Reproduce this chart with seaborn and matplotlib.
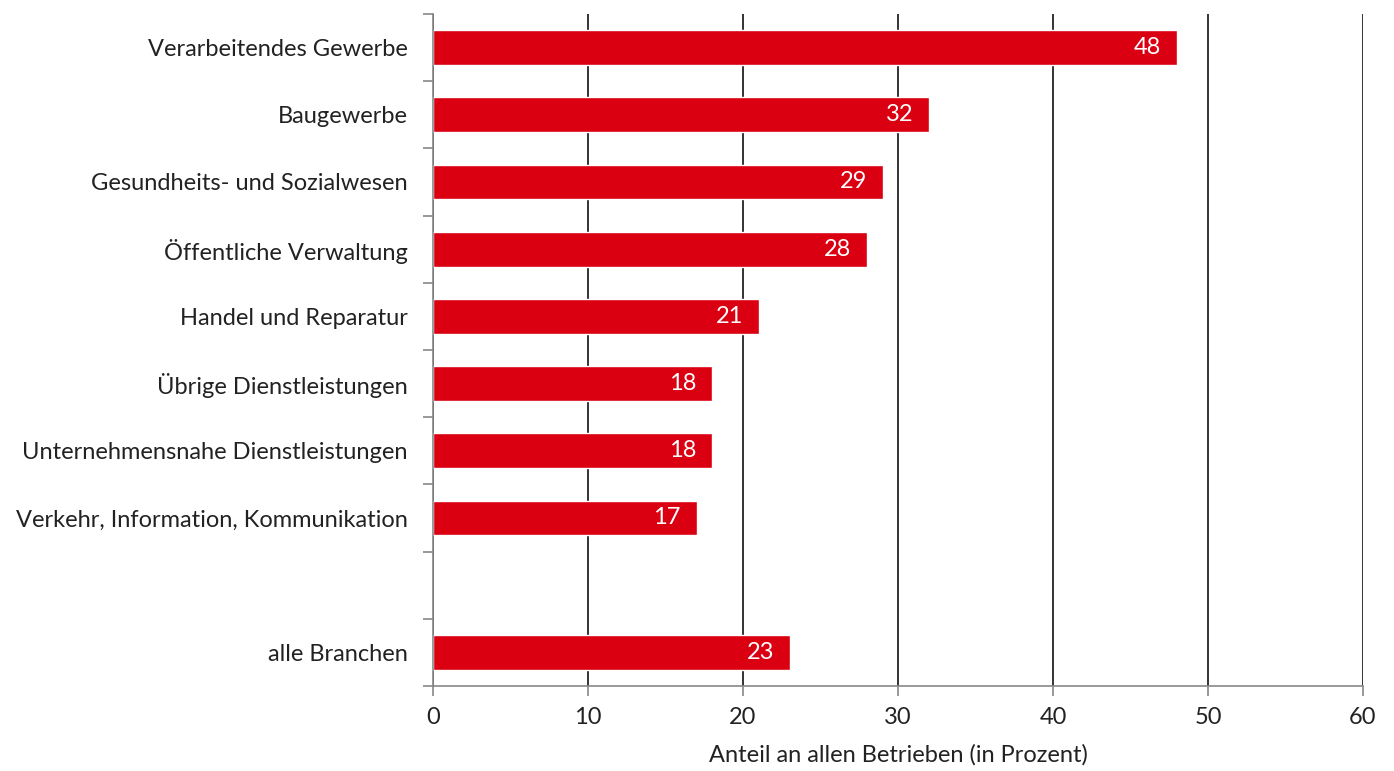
import numpy as np
import pandas as pd
import matplotlib
matplotlib.use("Agg")
import matplotlib.pyplot as plt
import seaborn as sns

# Data
categories = [
    "Verarbeitendes Gewerbe",
    "Baugewerbe",
    "Gesundheits- und Sozialwesen",
    "Öffentliche Verwaltung",
    "Handel und Reparatur",
    "Übrige Dienstleistungen",
    "Unternehmensnahe Dienstleistungen",
    "Verkehr, Information, Kommunikation",
    "alle Branchen",
]
values = [48, 32, 29, 28, 21, 18, 18, 17, 23]
x_ticks = [0, 10, 20, 30, 40, 50, 60]
x_label = "Anteil an allen Betrieben (in Prozent)"

# empty slot between the branches and the total
order = categories[:8] + [" "] + categories[8:]

df = pd.DataFrame({"Branche": categories, "Anteil": values})

sns.set_style("white")
plt.rcParams["font.family"] = ["Lato", "DejaVu Sans"]

fig = plt.figure(figsize=(13.94, 7.71), dpi=100)
ax = fig.add_axes([433 / 1394, 1 - 686 / 771, (1363 - 433) / 1394, (686 - 14) / 771])

sns.barplot(data=df, x="Anteil", y="Branche", order=order, orient="h",
            color="#DA0011", saturation=1, width=0.52, ax=ax)

# value labels inside bar ends
for c in ax.containers:
    ax.bar_label(c, labels=[f"{v:.0f}" if not np.isnan(v) else "" for v in c.datavalues],
                 padding=-31, color="white", fontsize=17)

ax.set_xlim(0, 60)
ax.set_ylim(len(order) - 0.5, -0.5)
ax.set_xticks(x_ticks)
ax.set_xticklabels([str(t) for t in x_ticks], fontsize=17, color="#222222")
ax.set_xlabel(x_label, fontsize=17, color="#222222", labelpad=12)
ax.set_ylabel("")
ax.tick_params(axis="y", which="major", length=0, labelsize=17, pad=18, labelcolor="#222222")
ax.set_yticks(np.arange(-0.5, len(order), 1), minor=True)
ax.tick_params(axis="y", which="minor", length=7, color="#888888", width=1.2, left=True)
ax.tick_params(axis="x", which="major", length=7, color="#888888", width=1.2, bottom=True, pad=8)

ax.xaxis.grid(True, color="#111111", linewidth=1.2)
ax.set_axisbelow(True)
for s in ["top", "right"]:
    ax.spines[s].set_visible(False)
for s in ["left", "bottom"]:
    ax.spines[s].set_color("#888888")
    ax.spines[s].set_linewidth(1.2)

fig.savefig("out.png", dpi=100)
